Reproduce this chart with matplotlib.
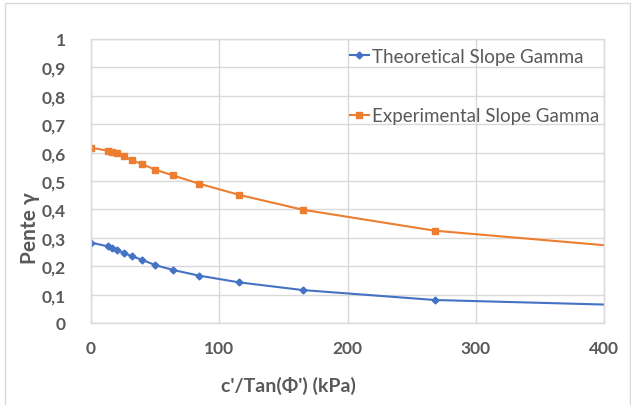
import matplotlib
matplotlib.use("Agg")
import matplotlib.pyplot as plt
from matplotlib.ticker import FuncFormatter, MultipleLocator
from matplotlib.patches import Rectangle

# Data
x_vals = [0, 13, 16.5, 20.5, 25.7, 32, 39.5, 50, 63.7, 84, 115.6, 165, 268, 540]
theoretical = [0.283, 0.270, 0.263, 0.257, 0.246, 0.235, 0.223, 0.204, 0.187, 0.167, 0.143, 0.116, 0.081, 0.048]
experimental = [0.617, 0.607, 0.603, 0.599, 0.587, 0.573, 0.560, 0.540, 0.520, 0.491, 0.451, 0.399, 0.325, 0.220]
series_names = ["Theoretical Slope Gamma", "Experimental Slope Gamma"]
x_ticks = [0, 100, 200, 300, 400]

plt.rcParams['font.family'] = ['Lato', 'DejaVu Sans']
txt = '#595959'

fig = plt.figure(figsize=(6.31, 4.06), dpi=100)
ax = fig.add_axes([91/631, 1-324/406, (604-91)/631, (324-40)/406])

ax.plot(x_vals, theoretical, color='#4472C4', lw=1.5, marker='D', ms=3.5,
        label=series_names[0], clip_on=True)
ax.plot(x_vals, experimental, color='#ED7D31', lw=1.5, marker='s', ms=5,
        label=series_names[1], clip_on=True)

ax.set_xlim(0, 400)
ax.set_ylim(0, 1)
ax.set_xticks(x_ticks)
ax.yaxis.set_major_locator(MultipleLocator(0.1))
ax.yaxis.set_major_formatter(FuncFormatter(lambda v, p: ('%g' % round(v, 1)).replace('.', ',')))
ax.grid(True, color='#d9d9d9', lw=1)
ax.set_axisbelow(True)
for s in ax.spines.values():
    s.set_color('#d9d9d9')
    s.set_linewidth(1)
ax.tick_params(length=0, labelsize=12.5, labelcolor=txt)
ax.tick_params(axis='y', pad=18)
ax.tick_params(axis='x', pad=12)
for lab in ax.get_xticklabels() + ax.get_yticklabels():
    lab.set_fontweight('bold')

ax.set_xlabel("c'/Tan(\u03a6') (kPa)", fontsize=14, fontweight='bold', color=txt, va='center')
ax.xaxis.set_label_coords((288-91)/513, (324-386)/284)
ax.set_ylabel("Pente \u03b3", fontsize=15, fontweight='bold', color=txt, va='center')
ax.yaxis.set_label_coords((30-91)/513, (324-228)/284)

leg = ax.legend(loc='upper left', bbox_to_anchor=((350-91)/513, (324-49)/284), frameon=False,
                fontsize=13.5, labelcolor=txt, handlelength=1.0, handletextpad=0.2,
                labelspacing=2.25, borderaxespad=0, borderpad=0)

fig.patches.append(Rectangle((5/631, -0.02), 0.99, 1 - 4/406 + 0.02, transform=fig.transFigure,
                             fill=False, edgecolor='#d9d9d9', lw=1))

fig.savefig('out.png', dpi=100)
